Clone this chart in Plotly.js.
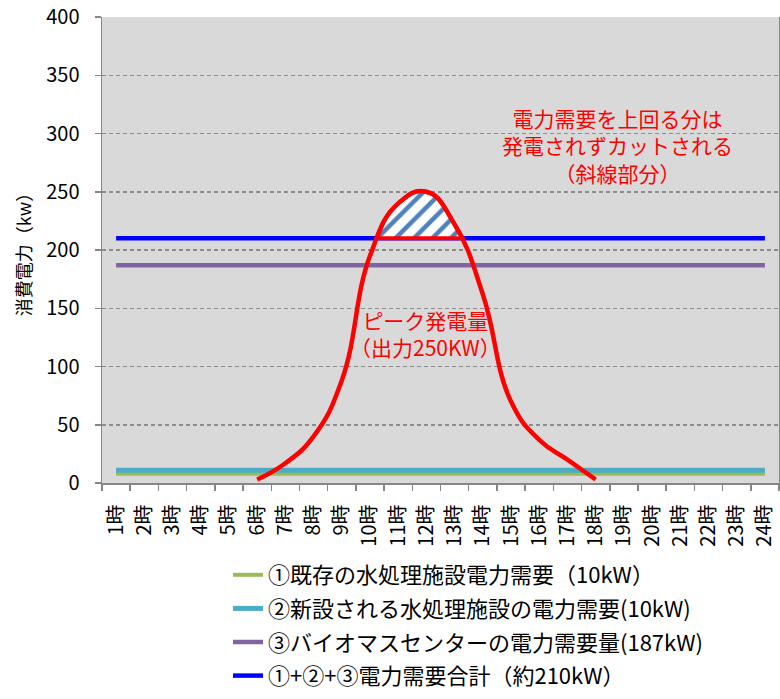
<!DOCTYPE html>
<html><head><meta charset="utf-8">
<script src="https://cdn.plot.ly/plotly-3.0.1.min.js"></script>
<style>html,body{margin:0;padding:0;background:#fff}#chart{width:780px;height:699px}</style>
</head><body><div id="chart"></div>
<script>
// ---- data ----
const hours = [1,2,3,4,5,6,7,8,9,10,11,12,13,14,15,16,17,18,19,20,21,22,23,24];
const hourLabels = ['1時','2時','3時','4時','5時','6時','7時','8時','9時','10時','11時','12時','13時','14時','15時','16時','17時','18時','19時','20時','21時','22時','23時','24時'];
const existingDemand = [8,8,8,8,8,8,8,8,8,8,8,8,8,8,8,8,8,8,8,8,8,8,8,8];
const newPlantDemand = [11,11,11,11,11,11,11,11,11,11,11,11,11,11,11,11,11,11,11,11,11,11,11,11];
const biomassDemand = [187,187,187,187,187,187,187,187,187,187,187,187,187,187,187,187,187,187,187,187,187,187,187,187];
const totalDemand = [210,210,210,210,210,210,210,210,210,210,210,210,210,210,210,210,210,210,210,210,210,210,210,210];
const peakHours = [6,7,8,9,10,11,12,13,14,15,16,17,18];
const peakOutput = [3,17,40,88,195,240,250,222,162,70,37,20,3];
const yTicks = [0,50,100,150,200,250,300,350,400];
const seriesNames = ['①既存の水処理施設電力需要（10kW）','②新設される水処理施設の電力需要(10kW)','③バイオマスセンターの電力需要量(187kW)','①+②+③電力需要合計（約210kW）'];
const noteCut = '電力需要を上回る分は<br>発電されずカットされる<br>（斜線部分）';
const notePeak = 'ピーク発電量<br>（出力250KW）';

// ---- layout geometry ----
const M = {l:102, r:1, t:17, b:216, autoexpand:false};
const W = 780 - M.l - M.r, H = 699 - M.t - M.b;
const xRange = [0.5, 24.5], yRange = [0, 400];
const kx = W / (xRange[1]-xRange[0]), ky = H / (yRange[1]-yRange[0]);
const SMOOTH = 1.3;

// replicate Plotly's spline (pixel space) to get the region of the peak curve above total demand
function makeTangent(p0, p1, p2, s) {
  const d1x = p0[0]-p1[0], d1y = p0[1]-p1[1], d2x = p2[0]-p1[0], d2y = p2[1]-p1[1];
  const d1a = Math.pow(d1x*d1x+d1y*d1y, 0.25), d2a = Math.pow(d2x*d2x+d2y*d2y, 0.25);
  const nx = (d2a*d2a*d1x - d1a*d1a*d2x)*s, ny = (d2a*d2a*d1y - d1a*d1a*d2y)*s;
  const den1 = 3*d2a*(d1a+d2a), den2 = 3*d1a*(d1a+d2a);
  return [[p1[0]+(den1&&nx/den1), p1[1]+(den1&&ny/den1)], [p1[0]-(den2&&nx/den2), p1[1]-(den2&&ny/den2)]];
}
function splineSamples(xs, ys, s) {
  const P = xs.map((x,i)=>[x*kx, -ys[i]*ky]);
  const T = [];
  for (let i=1;i<P.length-1;i++) T.push(makeTangent(P[i-1],P[i],P[i+1],s));
  const segs = [[P[0], T[0][0], P[1]]];
  for (let i=2;i<P.length-1;i++) segs.push([P[i-1], T[i-2][1], T[i-1][0], P[i]]);
  segs.push([P[P.length-2], T[P.length-3][1], P[P.length-1]]);
  const out = [];
  segs.forEach(sg => {
    for (let k=0;k<=60;k++) {
      const t=k/60, u=1-t; let p;
      if (sg.length===3) p=[u*u*sg[0][0]+2*u*t*sg[1][0]+t*t*sg[2][0], u*u*sg[0][1]+2*u*t*sg[1][1]+t*t*sg[2][1]];
      else p=[u*u*u*sg[0][0]+3*u*u*t*sg[1][0]+3*u*t*t*sg[2][0]+t*t*t*sg[3][0], u*u*u*sg[0][1]+3*u*u*t*sg[1][1]+3*u*t*t*sg[2][1]+t*t*t*sg[3][1]];
      out.push([p[0]/kx, -p[1]/ky]);
    }
  });
  return out;
}
const thr = totalDemand[0];
const samp = splineSamples(peakHours, peakOutput, SMOOTH);
const hx = [], hy = [];
for (let i=1;i<samp.length;i++) {
  const a = samp[i-1], b = samp[i];
  const ia = a[1] >= thr, ib = b[1] >= thr;
  if (ia !== ib) {
    const f = (thr - a[1])/(b[1]-a[1]);
    hx.push(a[0]+f*(b[0]-a[0])); hy.push(thr);
  }
  if (ib) { hx.push(b[0]); hy.push(b[1]); }
}
if (hx.length) { hx.push(hx[0]); hy.push(hy[0]); }

const FONT = '"Noto Sans CJK JP", "Noto Sans", sans-serif';
const colors = ['#9bbb59','#4bacc6','#8064a2','#0000ff'];
const widths = [4,5,4.5,4.5];
const demandSeries = [existingDemand, newPlantDemand, biomassDemand, totalDemand];

const traces = demandSeries.map((ys,i)=>({
  type:'scatter', mode:'lines', x:hours, y:ys, name:seriesNames[i],
  legendgroup:'g'+i, line:{color:colors[i], width:widths[i]}, hoverinfo:'skip'
}));
traces.push({
  type:'scatter', mode:'lines', x:hx, y:hy, fill:'toself', showlegend:false,
  line:{color:'#ff0000', width:4},
  fillcolor:'#ffffff',
  fillpattern:{shape:'/', bgcolor:'#ffffff', fgcolor:'#4f81bd', size:13, solidity:0.35},
  hoverinfo:'skip'
});
traces.push({
  type:'scatter', mode:'lines', x:peakHours, y:peakOutput, showlegend:false,
  line:{color:'#ff0000', width:4.5, shape:'spline', smoothing:SMOOTH}, hoverinfo:'skip'
});

const layout = {
  width:780, height:699, margin:M,
  paper_bgcolor:'#ffffff', plot_bgcolor:'#d9d9d9',
  font:{family:FONT, size:20, color:'#000'},
  showlegend:true,
  legend:{x:(228-M.l)/W, xanchor:'left', y:(M.t+H-554)/H, yanchor:'top',
    font:{family:FONT, size:22, color:'#000'}, tracegroupgap:2, bgcolor:'rgba(0,0,0,0)'},
  xaxis:{range:xRange, tickmode:'array', tickvals:hours, ticktext:hourLabels, tickangle:-90,
    ticks:'', showgrid:false, zeroline:false, showline:true, linecolor:'#868686', linewidth:1.5,
    tickfont:{family:FONT, size:20, color:'#000'}, ticklabelstandoff:12,
    minor:{tickmode:'linear', tick0:0.5, dtick:1, ticks:'outside', ticklen:6, tickcolor:'#868686', tickwidth:1.5, showgrid:false},
    fixedrange:true},
  yaxis:{range:yRange, tickmode:'array', tickvals:yTicks, ticks:'outside', ticklen:6, tickcolor:'#868686', tickwidth:1.5,
    showgrid:true, gridcolor:'#8c8c8c', gridwidth:1.5, griddash:'4px,3px',
    zeroline:false, showline:true, mirror:true, linecolor:'#868686', linewidth:1.5,
    tickfont:{family:FONT, size:20, color:'#000'}, ticklabelstandoff:11,
    title:{text:'消費電力（kw）', font:{family:FONT, size:18, color:'#000'}, standoff:10},
    fixedrange:true},
  annotations:[
    {xref:'x', yref:'y', x:18.76, y:290, text:noteCut, showarrow:false, font:{family:FONT, size:21, color:'#ff0000'}, align:'center'},
    {xref:'x', yref:'y', x:11.97, y:128, text:notePeak, showarrow:false, font:{family:FONT, size:21, color:'#ff0000'}, align:'center'}
  ]
};
Plotly.newPlot('chart', traces, layout, {displayModeBar:false, staticPlot:true});
</script></body></html>
